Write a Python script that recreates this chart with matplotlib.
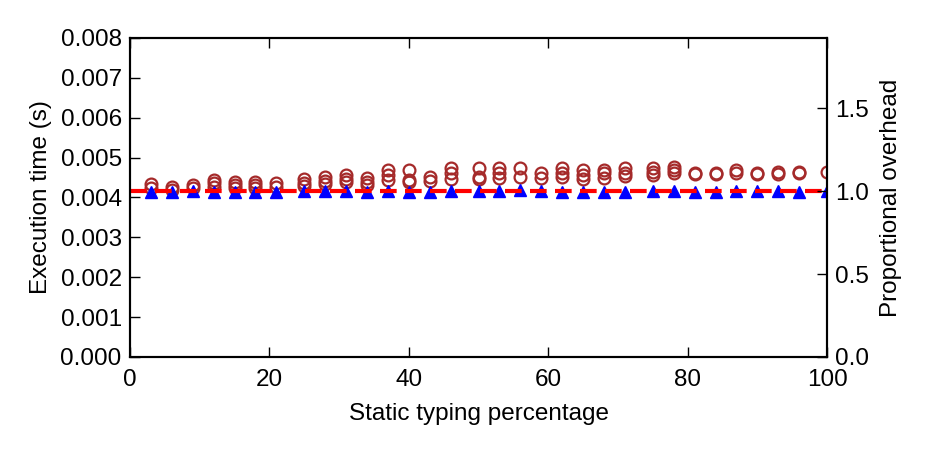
import matplotlib
matplotlib.use("Agg")
import matplotlib.pyplot as plt

plt.rcParams['font.family'] = ['Liberation Sans', 'DejaVu Sans']

# static typing percentage for each configuration
pct = [3, 6, 9, 12, 15, 18, 21, 25, 28, 31, 34, 37, 40, 43, 46, 50,
       53, 56, 59, 62, 65, 68, 71, 75, 78, 81, 84, 87, 90, 93, 96, 100]

# repeated runs of the typed versions (s)
runs = [
    [0.00433, 0.00425],
    [0.00426, 0.00419],
    [0.00431, 0.00423],
    [0.00444, 0.00436, 0.00427],
    [0.00440, 0.00431, 0.00424],
    [0.00440, 0.00431, 0.00425],
    [0.00436, 0.00427],
    [0.00446, 0.00437, 0.00429],
    [0.00451, 0.00442, 0.00434],
    [0.00456, 0.00446, 0.00438],
    [0.00448, 0.00440, 0.00431],
    [0.00469, 0.00456, 0.00444],
    [0.00469, 0.00444, 0.00440],
    [0.00452, 0.00442],
    [0.00473, 0.00461, 0.00446],
    [0.00473, 0.00452, 0.00446],
    [0.00473, 0.00461, 0.00448],
    [0.00473, 0.00452],
    [0.00461, 0.00448],
    [0.00473, 0.00461, 0.00452],
    [0.00469, 0.00456, 0.00446],
    [0.00469, 0.00461, 0.00448],
    [0.00473, 0.00461, 0.00454],
    [0.00473, 0.00465, 0.00456],
    [0.00477, 0.00469, 0.00461],
    [0.00461, 0.00459],
    [0.00462, 0.00460],
    [0.00469, 0.00461],
    [0.00462, 0.00459],
    [0.00465, 0.00459],
    [0.00465, 0.00462],
    [0.00463],
]

# best run per configuration (s)
best = [0.00415, 0.00415, 0.00417, 0.00414, 0.00415, 0.00415, 0.00414, 0.00416,
        0.00416, 0.00416, 0.00415, 0.00416, 0.00415, 0.00415, 0.00417, 0.00416,
        0.00416, 0.00418, 0.00417, 0.00414, 0.00414, 0.00414, 0.00415, 0.00417,
        0.00416, 0.00415, 0.00415, 0.00416, 0.00416, 0.00417, 0.00415, 0.00416]

baseline = 0.00416  # untyped execution time

fig = plt.figure(figsize=(9.3, 4.5), dpi=100)
ax = fig.add_axes([0.1398, 0.2067, 0.7495, 0.7089])

for x, ys in zip(pct, runs):
    ax.plot([x] * len(ys), ys, 'o', mfc='none', mec='brown', ms=8.5, mew=1.6)
ax.plot(pct, best, '^', color='blue', mec='blue', ms=8.5)
ax.plot([0, 100], [baseline, baseline], '--', color='red', lw=3, dashes=(4, 2))

ax.set_xlim(0, 100)
ax.set_ylim(0, 0.008)
ax.set_yticks([i * 0.001 for i in range(9)])
ax.set_yticklabels(['%.3f' % (i * 0.001) for i in range(9)])
ax.set_xlabel('Static typing percentage', fontsize=17.5, labelpad=8)
ax.set_ylabel('Execution time (s)', fontsize=17.5, labelpad=6)

ax2 = ax.twinx()
ax2.set_ylim(0, 0.008 / baseline)
ax2.set_yticks([0.0, 0.5, 1.0, 1.5])
ax2.set_ylabel('Proportional overhead', fontsize=17.5, labelpad=8)

for a in (ax, ax2):
    a.tick_params(direction='in', length=7, width=1, labelsize=17.5, pad=6)
    for s in a.spines.values():
        s.set_linewidth(1.5)
ax.tick_params(top=True)
ax.tick_params(axis='x', pad=9)

fig.savefig('out.png', dpi=100)
